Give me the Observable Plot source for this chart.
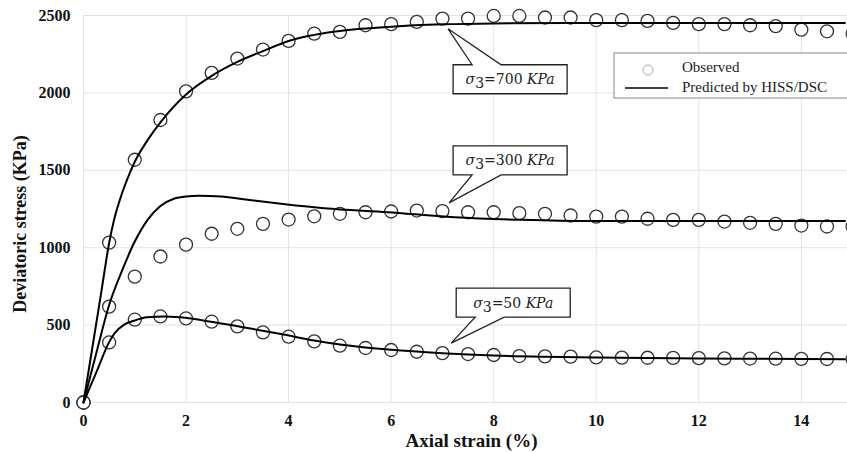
<!DOCTYPE html>
<html><head><meta charset="utf-8">
<script src="https://cdn.jsdelivr.net/npm/d3@7"></script>
<script src="https://cdn.jsdelivr.net/npm/@observablehq/plot@0.6"></script>
<style>
body{margin:0;background:#fff;}
#chart{width:847px;height:452px;overflow:hidden;}
</style>
</head><body><div id="chart"></div>
<script>
// Observed strains (%)
const strainObs = [0,0.5,1,1.5,2,2.5,3,3.5,4,4.5,5,5.5,6,6.5,7,7.5,8,8.5,9,9.5,10,10.5,11,11.5,12,12.5,13,13.5,14,14.5,15];
// Observed deviatoric stress (KPa)
const obs700 = [0,1033,1568,1825,2010,2129,2222,2280,2336,2383,2394,2437,2444,2459,2480,2480,2497,2497,2487,2487,2470,2470,2465,2452,2444,2444,2437,2431,2409,2398,2382];
const obs300 = [0,619,813,943,1020,1090,1122,1154,1182,1203,1219,1229,1234,1240,1236,1229,1229,1223,1219,1208,1201,1201,1187,1180,1180,1169,1161,1154,1143,1137,1137];
const obs50  = [0,388,535,556,543,522,492,453,425,395,367,352,339,328,319,313,307,300,298,296,291,290,289,288,287,285,284,283,282,281,280];

// Predicted by HISS/DSC
const pred700x = [0,0.2,0.35,0.5,0.6,0.75,0.9,1,1.25,1.5,2,2.5,3,3.5,4,5,6,7,8,10,12,14.85];
const pred700y = [0,410,720,1030,1185,1350,1480,1555,1695,1810,1990,2110,2200,2270,2335,2400,2428,2443,2449,2452,2452,2452];
const pred300x = [0,0.25,0.5,0.75,1,1.25,1.5,1.75,2,2.25,2.68,3.2,3.85,4.7,5.93,7.23,8.54,9.9,12,14.85];
const pred300y = [0,320,630,850,1040,1180,1270,1315,1330,1335,1331,1309,1284,1255,1229,1197,1180,1172,1172,1172];
const pred50x  = [0,0.25,0.5,0.6,0.8,1,1.24,1.57,1.89,2.55,3.2,3.85,4.5,5,6,7,8,9,10,12,14.85];
const pred50y  = [0,195,390,445,505,530,550,556,550,518,481,442,400,375,340,318,303,295,290,285,280];

const xTicks = [0,2,4,6,8,10,12,14];
const yTicks = [0,500,1000,1500,2000,2500];
const xLabel = "Axial strain (%)";
const yLabel = "Deviatoric stress (KPa)";

// Callout annotations: tip point and box centre (data units)
const calloutSeries = ["700","300","50"];
const calloutTipX = [7.12, 7.14, 7.18];
const calloutTipY = [2411, 1286, 380];
const calloutBoxX = [8.33, 8.33, 8.39];
const calloutBoxY = [2085, 1561, 642];

const legendLabels = ["Observed", "Predicted by HISS/DSC"];

const obsData = [];
[["700",obs700],["300",obs300],["50",obs50]].forEach(([s,arr]) =>
  arr.forEach((v,i) => obsData.push({series:s, x:strainObs[i], y:v})));
const predData = [];
[["700",pred700x,pred700y],["300",pred300x,pred300y],["50",pred50x,pred50y]].forEach(([s,xs,ys]) =>
  xs.forEach((v,i) => predData.push({series:s, x:v, y:ys[i]})));

const chart = Plot.plot({
  width: 847,
  height: 452,
  marginLeft: 83,
  marginRight: 0,
  marginTop: 15,
  marginBottom: 50,
  style: {fontFamily: "'Liberation Serif', 'Times New Roman', serif", fontSize: "16px", fontWeight: "bold", color: "#111", background: "#fff"},
  x: {domain: [0, 14.9]},
  y: {domain: [0, 2500]},
  marks: [
    Plot.gridX(xTicks, {stroke: "#e2e2e2", strokeOpacity: 1, strokeWidth: 1}),
    Plot.gridY(yTicks, {stroke: "#e2e2e2", strokeOpacity: 1, strokeWidth: 1}),
    Plot.axisX(xTicks, {tickSize: 0, tickPadding: 12, label: null, tickFormat: d3.format("d")}),
    Plot.axisY(yTicks, {tickSize: 0, tickPadding: 13, label: null, tickFormat: d3.format("d")}),
    Plot.text([xLabel], {frameAnchor: "bottom", lineAnchor: "middle", textAnchor: "middle", dx: 6, dy: 38, fontSize: 19, fontWeight: "bold", fill: "#111"}),
    Plot.text([yLabel], {frameAnchor: "left", rotate: -90, lineAnchor: "middle", textAnchor: "middle", dx: -63, dy: 15, fontSize: 18, fontWeight: "bold", fill: "#111"}),
    Plot.dot(obsData, {x: "x", y: "y", r: 6.5, stroke: "#333", strokeWidth: 1.3, fill: "white"}),
    Plot.line(predData, {x: "x", y: "y", z: "series", stroke: "#000", strokeWidth: 2, curve: "monotone-x"})
  ]
});
document.getElementById("chart").appendChild(chart);

// Annotations drawn with the plot's own scales
const sx = chart.scale("x"), sy = chart.scale("y");
const X = d3.scaleLinear(sx.domain, sx.range);
const Y = d3.scaleLinear(sy.domain, sy.range);
const svg = d3.select(chart);
const g = svg.append("g").attr("text-anchor", "middle");
const bw = 114, bh = 29;
calloutSeries.forEach((s, i) => {
  const cx = X(calloutBoxX[i]), cy = Y(calloutBoxY[i]);
  const tx = X(calloutTipX[i]), ty = Y(calloutTipY[i]);
  const l = cx - bw/2, r = cx + bw/2, t = cy - bh/2, b = cy + bh/2;
  const b1 = l + 19, b2 = l + 48;
  let d;
  if (ty < t) d = `M${l},${t}L${b1},${t}L${tx},${ty}L${b2},${t}L${r},${t}L${r},${b}L${l},${b}Z`;
  else d = `M${l},${t}L${r},${t}L${r},${b}L${b2},${b}L${tx},${ty}L${b1},${b}L${l},${b}Z`;
  g.append("path").attr("d", d).attr("fill", "white").attr("stroke", "#222").attr("stroke-width", 1.3).attr("stroke-linejoin", "miter");
  const txt = g.append("text").attr("x", cx).attr("y", cy + 5).attr("text-anchor", "middle")
    .attr("font-family", "'DejaVu Serif', serif").attr("font-size", 14).attr("font-weight", "normal").attr("fill", "#222");
  txt.append("tspan").attr("font-style", "italic").text("σ");
  txt.append("tspan").attr("dy", 4).text("3");
  txt.append("tspan").attr("dy", -4).text("=" + s + " ");
  txt.append("tspan").attr("font-style", "italic").text("KPa");
});

// Legend
const lg = svg.append("g").attr("font-family", "'Liberation Serif', serif").attr("font-size", 15).attr("font-weight", "normal").attr("fill", "#222").attr("text-anchor", "start");
lg.append("rect").attr("x", 614).attr("y", 53).attr("width", 240).attr("height", 45).attr("fill", "white").attr("stroke", "#888").attr("stroke-width", 1);
lg.append("circle").attr("cx", 648).attr("cy", 70).attr("r", 5).attr("fill", "white").attr("stroke", "#aaa").attr("stroke-width", 1);
lg.append("line").attr("x1", 625).attr("x2", 668).attr("y1", 88).attr("y2", 88).attr("stroke", "#000").attr("stroke-width", 1.6);
lg.append("text").attr("x", 682).attr("y", 72).attr("text-anchor", "start").text(legendLabels[0]);
lg.append("text").attr("x", 682).attr("y", 92).attr("text-anchor", "start").text(legendLabels[1]);
</script>
</body></html>
